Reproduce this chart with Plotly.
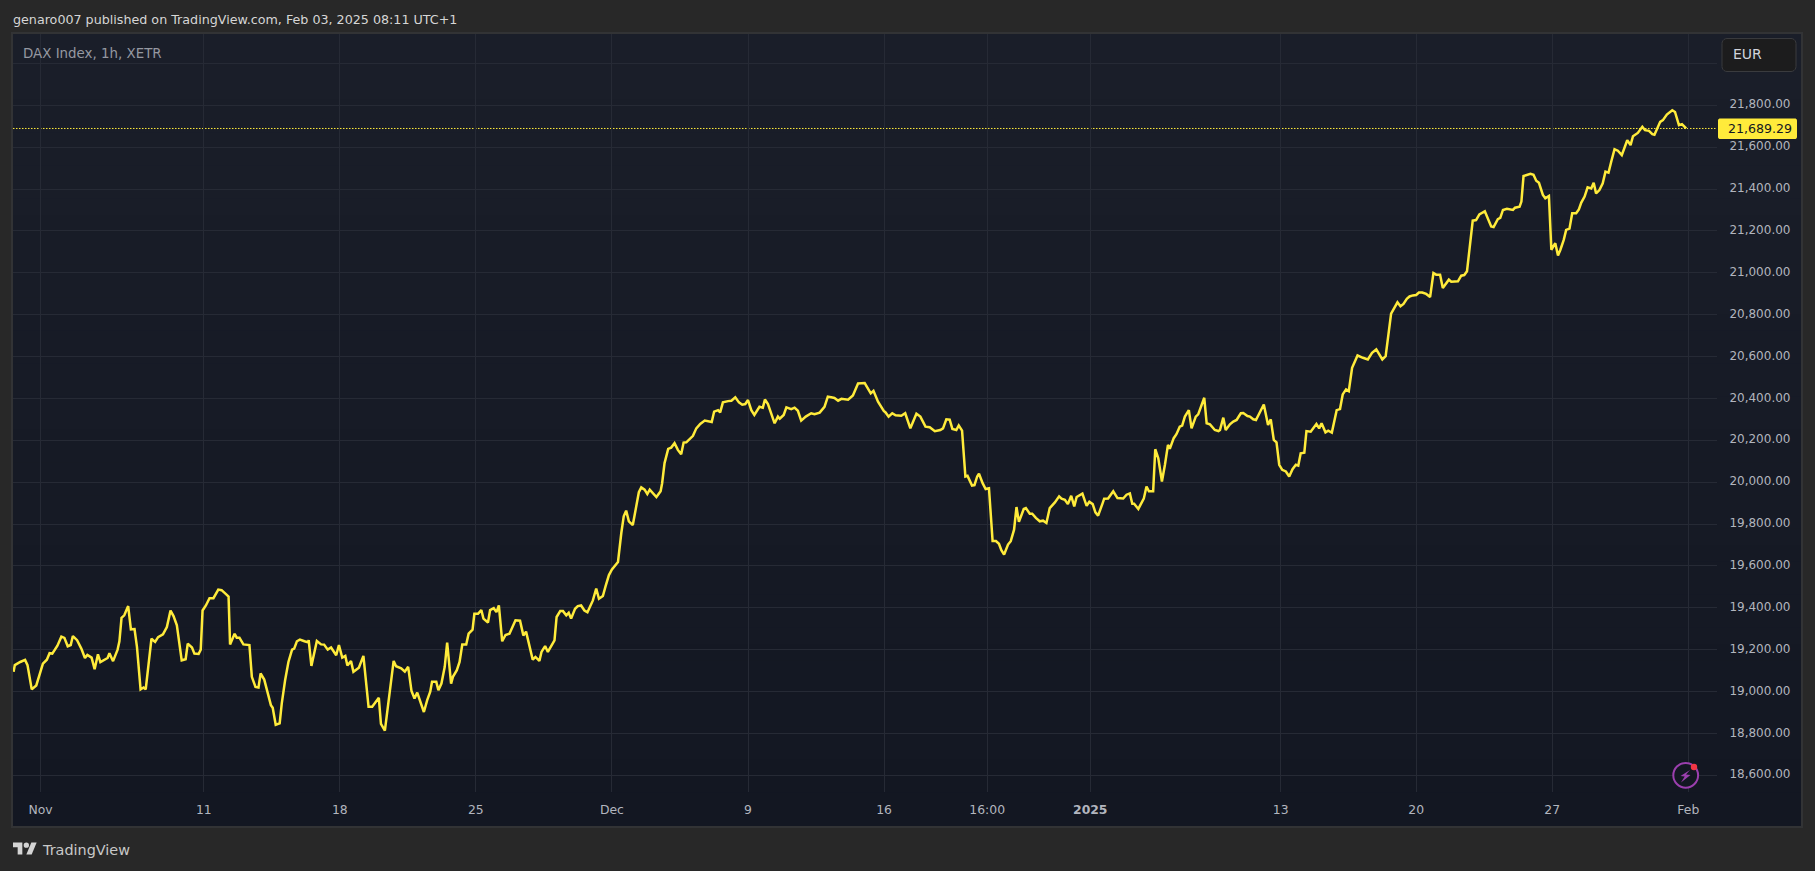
import math
import plotly.graph_objects as go

WIDTH, HEIGHT = 1815, 871

# Session bar number (hourly bars, 0 = first bar of November) and DAX level.
bars = [
    -8.9, -8.5, -6.7, -5.1, -4.3, -2.9, -1.4, -0.7, 0.8, 2.1, 3.0, 3.9, 5.6, 6.9, 7.9, 9.0, 10.0, 10.7, 12.1, 13.5,
    14.7, 15.5, 16.9, 17.9, 19.0, 19.8, 21.1, 22.2, 22.8, 24.0, 25.5, 26.1, 26.8, 27.7, 29.0, 29.9, 31.1, 31.9, 33.1, 34.1,
    34.8, 35.7, 36.7, 37.9, 38.9, 40.5, 41.8, 43.0, 44.0, 45.1, 45.9, 46.7, 48.0, 48.7, 50.1, 50.9, 52.3, 53.0, 53.6, 54.7,
    55.9, 57.2, 58.8, 59.9, 60.9, 62.2, 62.7, 64.2, 64.9, 65.8, 67.1, 69.1, 69.9, 71.1, 72.1, 72.8, 74.0, 75.2, 76.2, 76.8,
    77.8, 79.1, 79.8, 80.9, 82.0, 83.2, 83.9, 84.8, 85.8,
    87.3, 88.4, 88.7, 89.6, 91.4, 92.8, 93.8, 95.0, 96.1, 97.8, 98.7, 99.8, 100.8, 101.5, 102.7, 103.5, 105.3, 106.8, 108.5, 109.7,
    111.9, 112.6, 113.9, 115.2, 116.8, 117.6, 119.3, 120.5, 121.6, 122.7, 123.7, 124.6, 125.4, 126.8, 127.9, 128.9, 129.5, 130.9, 131.6, 132.6,
    133.7, 134.5, 135.8, 136.4, 137.7, 138.6, 139.5, 140.8, 141.6, 142.9, 143.5, 144.7, 145.8, 146.5, 148.0, 148.7, 149.9, 150.8, 151.6, 152.7,
    153.8, 155.1, 157.1, 158.6, 159.7, 160.6, 162.8, 163.7, 165.0, 165.7, 166.9, 167.8, 170.0, 170.7, 171.9, 172.8, 173.9, 174.7, 175.5, 176.8,
    177.7, 178.8, 179.9, 180.9, 182.7, 183.8, 184.7,
    186.0, 186.9, 188.0, 189.0, 190.1, 191.0, 192.1, 192.9, 193.7, 194.6, 195.9, 197.0, 197.9, 198.7, 199.8, 200.7, 201.5, 203.7, 205.1, 205.6,
    206.4, 207.6, 208.6, 209.7, 210.8, 211.9, 212.7, 213.6, 215.8, 216.9, 218.2, 219.7, 220.8, 222.0, 222.8, 224.1, 224.8, 225.7, 227.4, 228.5,
    229.8, 231.0, 232.1, 233.1, 234.0, 235.1, 236.1, 237.8, 238.9, 239.6, 240.6, 242.8, 243.9, 244.5, 245.8, 246.7, 248.3, 249.4, 250.5, 251.6,
    253.1, 254.9, 256.0, 257.7, 259.3, 260.4, 261.5, 262.6, 263.8, 264.9, 267.1, 268.7, 270.4, 271.5, 272.6, 274.6, 275.5, 277.0, 278.9, 279.5,
    280.5, 281.7, 282.8, 284.7, 286.0, 287.7, 289.7, 291.0, 292.7, 294.1, 295.8, 297.6, 298.5, 299.6, 300.7, 301.6, 302.9, 303.7, 304.8, 305.9,
    306.6, 308.1, 308.9, 309.8, 310.4,
    311.6, 312.6, 313.7, 314.9, 316.0, 317.0, 317.8, 318.7, 320.0, 320.9, 322.0, 322.8, 323.6, 325.2, 325.9, 327.2, 328.0, 329.2, 330.5, 331.6,
    332.7, 333.8, 335.5, 336.9, 337.7, 338.8, 339.8, 340.9, 341.9, 342.7, 344.6, 346.0, 346.9, 348.0, 348.9, 349.8, 351.3, 351.8, 353.1, 354.8,
    356.2, 358.1, 359.2, 360.3, 361.1, 361.7, 363.1, 364.9, 365.8, 366.6, 368.0, 368.7, 369.7, 370.9, 371.9, 372.9, 373.5, 374.8, 375.7, 376.8,
    377.6, 378.5, 379.8, 380.7, 382.1, 382.9, 384.9, 385.7, 386.8, 388.4, 389.6, 390.1, 391.2, 392.0, 393.4, 394.5, 395.6, 397.0, 397.8, 399.2,
    400.0, 401.1, 402.0, 404.6, 406.0, 406.9, 407.9, 408.8, 409.7, 410.7, 411.9, 413.0, 414.1, 415.2, 416.0, 416.8, 418.0, 418.7, 420.1, 422.0,
    422.9, 423.7, 425.0, 425.9, 427.1, 428.7, 429.8,
    430.7, 431.8, 432.7, 433.8, 435.6, 437.4, 439.0, 440.4, 441.8, 443.8, 444.9, 446.7, 447.6, 448.8, 449.8, 450.8, 451.9, 452.8, 453.9, 455.0,
    455.9, 457.0, 458.3, 459.6, 460.7, 461.6, 462.9, 463.8, 465.8, 466.6, 468.8, 469.9, 470.9, 471.8, 473.7, 474.8, 475.9, 477.7, 479.8, 480.6,
    482.0, 482.8, 483.7, 485.0, 487.0, 487.7, 489.2, 489.8, 490.5, 491.9, 492.8, 493.8, 494.7, 495.6, 496.9, 497.7, 498.9, 499.7, 501.0, 501.9,
    502.7, 503.8, 504.6, 505.7, 506.6, 507.9, 508.8, 509.6, 510.7, 511.7, 512.9, 513.7, 514.5, 515.6, 516.7, 517.6, 518.6, 519.5, 520.6, 521.7,
    523.0, 524.8, 525.9, 526.7, 528.3, 529.8, 530.7, 532.0, 533.1, 533.8, 535.7, 536.6, 537.9, 539.7, 540.6, 541.9, 542.9, 544.3,
]
closes = [
    19094, 19126, 19141, 19151, 19126, 19010, 19029, 19062, 19133, 19152, 19183, 19181, 19219, 19262, 19256, 19216, 19222, 19265, 19245, 19205,
    19160, 19175, 19162, 19106, 19178, 19140, 19152, 19160, 19183, 19145, 19200, 19240, 19352, 19364, 19408, 19297, 19298, 19213, 19010, 19019,
    19010, 19118, 19252, 19237, 19260, 19273, 19308, 19387, 19360, 19316, 19229, 19149, 19154, 19229, 19210, 19181, 19179, 19200, 19387, 19411,
    19446, 19446, 19487, 19484, 19471, 19454, 19225, 19276, 19257, 19257, 19225, 19222, 19070, 19022, 19019, 19086, 19057, 18991, 18935, 18922,
    18841, 18848, 18943, 19054, 19141, 19200, 19205, 19240, 19248,
    19240, 19235, 19245, 19122, 19241, 19225, 19224, 19200, 19210, 19173, 19222, 19162, 19170, 19124, 19145, 19094, 19114, 19170, 18927, 18927,
    18970, 18845, 18813, 18959, 19146, 19121, 19111, 19095, 19118, 19003, 18967, 18995, 18959, 18902, 18959, 18999, 19046, 19046, 19006, 19038,
    19118, 19233, 19038, 19070, 19102, 19141, 19224, 19224, 19276, 19295, 19371, 19371, 19389, 19348, 19330, 19389, 19398, 19379, 19411, 19240,
    19270, 19276, 19340, 19338, 19268, 19286, 19152, 19165, 19146, 19189, 19217, 19189, 19244, 19356, 19384, 19384, 19364, 19376, 19348, 19395,
    19408, 19411, 19387, 19379, 19435, 19492, 19443,
    19456, 19503, 19556, 19583, 19605, 19619, 19757, 19837, 19864, 19813, 19795, 19884, 19952, 19975, 19964, 19943, 19964, 19929, 19957, 19995,
    20091, 20159, 20165, 20186, 20154, 20133, 20189, 20190, 20221, 20257, 20278, 20294, 20292, 20287, 20337, 20344, 20333, 20381, 20387, 20389,
    20405, 20381, 20370, 20373, 20392, 20344, 20321, 20360, 20356, 20395, 20373, 20281, 20313, 20303, 20321, 20357, 20349, 20356, 20341, 20294,
    20313, 20329, 20324, 20332, 20360, 20408, 20405, 20402, 20389, 20398, 20394, 20414, 20471, 20473, 20473, 20424, 20436, 20384, 20340, 20333,
    20313, 20329, 20319, 20317, 20329, 20257, 20327, 20313, 20265, 20262, 20243, 20249, 20257, 20300, 20298, 20254, 20249, 20271, 20246, 20027,
    20030, 19984, 19986, 20027, 20040,
    19995, 19967, 19971, 19719, 19719, 19706, 19675, 19654, 19702, 19718, 19773, 19881, 19810, 19872, 19876, 19849, 19849, 19829, 19813, 19816,
    19805, 19876, 19903, 19932, 19921, 19916, 19895, 19935, 19884, 19929, 19945, 19887, 19906, 19895, 19856, 19840, 19900, 19921, 19922, 19956,
    19924, 19922, 19940, 19946, 19897, 19897, 19872, 19921, 19979, 19956, 19956, 20157, 20114, 20003, 20083, 20178, 20159, 20210, 20229, 20265,
    20270, 20313, 20344, 20257, 20313, 20324, 20403, 20281, 20276, 20249, 20244, 20249, 20308, 20249, 20276, 20289, 20297, 20329, 20330, 20316,
    20313, 20300, 20297, 20371, 20273, 20300, 20202, 20190, 20083, 20059, 20051, 20027, 20062, 20083, 20079, 20138, 20141, 20244, 20241, 20278,
    20257, 20281, 20238, 20246, 20237, 20344, 20349,
    20419, 20443, 20435, 20546, 20605, 20594, 20586, 20618, 20634, 20586, 20602, 20805, 20829, 20859, 20840, 20851, 20876, 20887, 20892, 20894,
    20906, 20906, 20899, 20884, 20999, 20991, 20991, 20927, 20967, 20957, 20959, 20986, 20989, 21007, 21249, 21252, 21279, 21294, 21221, 21218,
    21256, 21262, 21300, 21306, 21300, 21311, 21316, 21340, 21462, 21468, 21473, 21468, 21440, 21430, 21372, 21356, 21367, 21110, 21141, 21083,
    21110, 21157, 21205, 21211, 21284, 21284, 21303, 21335, 21364, 21408, 21403, 21430, 21379, 21395, 21427, 21483, 21478, 21530, 21590, 21583,
    21562, 21633, 21610, 21652, 21668, 21697, 21681, 21678, 21662, 21659, 21721, 21729, 21756, 21776, 21768, 21705, 21710, 21689.29,
]

last_price = 21689.29

date_tick_bars = [0, 54, 99, 144, 189, 234, 279, 313.1, 347.2, 410.2, 455, 500, 545]
date_tick_labels = ["Nov", "11", "18", "25", "Dec", "9", "16", "16:00", "<b>2025</b>", "13", "20", "27", "Feb"]
price_ticks = list(range(18600, 22001, 200))
price_tick_labels = [f"{p:,.2f}" for p in price_ticks[:-1]] + [""]

FONT = "DejaVu Sans"
LINE_YELLOW = "#FFEB3B"
GRID = "#262a35"
AXIS_TEXT = "#b2b5be"
OUTER_BG = "#282828"

# Pane geometry in page pixels
PLOT_L, PLOT_R, PLOT_T, PLOT_B = 13, 1717, 34, 792
FRAME_L, FRAME_R, FRAME_T, FRAME_B = 13, 1801, 34, 826
X_RANGE = [(PLOT_L - 40.5) / 3.0235, (PLOT_R - 40.5) / 3.0235]


def px(x):
    return x / WIDTH


def py(y):
    return 1 - y / HEIGHT


def path(points, close=True):
    body = " L ".join(f"{px(x):.6f} {py(y):.6f}" for x, y in points)
    return "M " + body + (" Z" if close else "")


def rounded_rect(x0, y0, x1, y1, r, steps=5):
    pts = []
    for cx, cy, start in (
        (x1 - r, y0 + r, -90),
        (x1 - r, y1 - r, 0),
        (x0 + r, y1 - r, 90),
        (x0 + r, y0 + r, 180),
    ):
        for i in range(steps + 1):
            a = math.radians(start + 90 * i / steps)
            pts.append((cx + r * math.cos(a), cy + r * math.sin(a)))
    return path(pts)


def circle(cx, cy, r, **style):
    return dict(
        type="circle", xref="paper", yref="paper",
        x0=px(cx - r), x1=px(cx + r), y0=py(cy + r), y1=py(cy - r), **style,
    )


shapes = []

# Pane background fades slightly from top to bottom
N_BANDS = 48
TOP_RGB, BOTTOM_RGB = (26, 30, 41), (19, 23, 34)
for i in range(N_BANDS):
    t = i / (N_BANDS - 1)
    rgb = tuple(round(a + (b - a) * t) for a, b in zip(TOP_RGB, BOTTOM_RGB))
    y0 = FRAME_T + (FRAME_B - FRAME_T) * i / N_BANDS
    y1 = FRAME_T + (FRAME_B - FRAME_T) * (i + 1) / N_BANDS
    shapes.append(dict(
        type="rect", layer="below", xref="paper", yref="paper",
        x0=px(FRAME_L), x1=px(FRAME_R), y0=py(y1), y1=py(y0 - 0.5),
        fillcolor=f"rgb{rgb}", line_width=0,
    ))

# Pane border
shapes.append(dict(
    type="rect", layer="below", xref="paper", yref="paper",
    x0=px(FRAME_L - 1), x1=px(FRAME_R + 1), y0=py(FRAME_B + 1), y1=py(FRAME_T - 1),
    fillcolor="rgba(0,0,0,0)", line=dict(color="#323335", width=2),
))

# Last price line
shapes.append(dict(
    type="line", layer="below", xref="x", yref="y",
    x0=X_RANGE[0], x1=X_RANGE[1], y0=last_price, y1=last_price,
    line=dict(color=LINE_YELLOW, width=1, dash="1.5px,1.5px"),
))

# Last price tag
shapes.append(dict(
    type="path", xref="paper", yref="paper",
    path=rounded_rect(1718, 118.5, 1797, 139, 2),
    fillcolor=LINE_YELLOW, line_width=0,
))

# Currency button
shapes.append(dict(
    type="path", xref="paper", yref="paper",
    path=rounded_rect(1722, 38.5, 1796, 71.5, 5),
    fillcolor="#1c1c1d", line=dict(color="#3a3b3e", width=1),
))

# Notification badge
shapes.append(circle(1685.7, 775.3, 12.4, fillcolor="#131722", line=dict(color="#9b3fae", width=2)))
shapes.append(dict(
    type="path", xref="paper", yref="paper",
    path=path([(1690, 770), (1680.5, 776), (1684.7, 776.5), (1681, 782.5),
               (1690.5, 775), (1686, 774.5)]),
    fillcolor="#9b3fae", line_width=0,
))
shapes.append(circle(1694, 767, 3.2, fillcolor="#f23645", line_width=0))

# Wordmark glyph
LOGO_X, LOGO_Y, LOGO_S = 13, 839.8, 24 / 36


def logo(x, y):
    return (LOGO_X + x * LOGO_S, LOGO_Y + y * LOGO_S)


LOGO_COLOR = "#d4d4d4"
shapes.append(dict(
    type="path", xref="paper", yref="paper",
    path=path([logo(*p) for p in [(14, 22), (7, 22), (7, 11), (0, 11), (0, 4), (14, 4)]]),
    fillcolor=LOGO_COLOR, line_width=0,
))
shapes.append(dict(
    type="path", xref="paper", yref="paper",
    path=path([logo(*p) for p in [(28, 22), (20, 22), (27.5, 4), (35.5, 4)]]),
    fillcolor=LOGO_COLOR, line_width=0,
))
lx, ly = logo(20, 8)
shapes.append(circle(lx, ly, 4 * LOGO_S, fillcolor=LOGO_COLOR, line_width=0))


def label(text, x, y, color, size, anchor="left", **extra):
    return dict(
        text=text, xref="paper", yref="paper", x=px(x), y=py(y),
        xanchor=anchor, yanchor="middle", showarrow=False,
        font=dict(family=FONT, size=size, color=color), **extra,
    )


annotations = [
    label("genaro007 published on TradingView.com, Feb 03, 2025 08:11 UTC+1", 11, 19.5, "#d6d6d6", 12.7),
    label("DAX Index, 1h, XETR", 21, 53.5, "#9598a1", 13.4),
    label("EUR", 1731, 54.5, "#d1d4dc", 14),
    label(f"{last_price:,.2f}", 1794, 128.5, "#131722", 12.6, anchor="right"),
    label("TradingView", 40, 850, "#c8c8c8", 14.4),
]

fig = go.Figure(go.Scatter(
    x=bars, y=closes, mode="lines",
    line=dict(color=LINE_YELLOW, width=2.5, shape="linear"),
    hoverinfo="skip", showlegend=False,
))

fig.update_layout(
    width=WIDTH, height=HEIGHT, autosize=False,
    margin=dict(l=0, r=0, t=0, b=0, pad=0),
    paper_bgcolor=OUTER_BG, plot_bgcolor="rgba(0,0,0,0)",
    font=dict(family=FONT, size=12, color=AXIS_TEXT),
    shapes=shapes, annotations=annotations, showlegend=False,
    xaxis=dict(
        domain=[px(PLOT_L), px(PLOT_R)], range=X_RANGE,
        tickmode="array", tickvals=date_tick_bars, ticktext=date_tick_labels,
        showgrid=True, gridcolor=GRID, gridwidth=1, zeroline=False, showline=False,
        ticks="outside", ticklen=6, tickcolor="rgba(0,0,0,0)",
        tickfont=dict(family=FONT, size=12.4, color=AXIS_TEXT),
    ),
    yaxis=dict(
        domain=[py(PLOT_B), py(PLOT_T)], range=[18520, 22140.5], side="right",
        tickmode="array", tickvals=price_ticks, ticktext=price_tick_labels,
        showgrid=True, gridcolor=GRID, gridwidth=1, zeroline=False, showline=False,
        ticks="outside", ticklen=9, tickcolor="rgba(0,0,0,0)", ticklabelshift=-1,
        tickfont=dict(family=FONT, size=12, color=AXIS_TEXT),
    ),
)

fig.write_html("out.html", config=dict(displayModeBar=False))
